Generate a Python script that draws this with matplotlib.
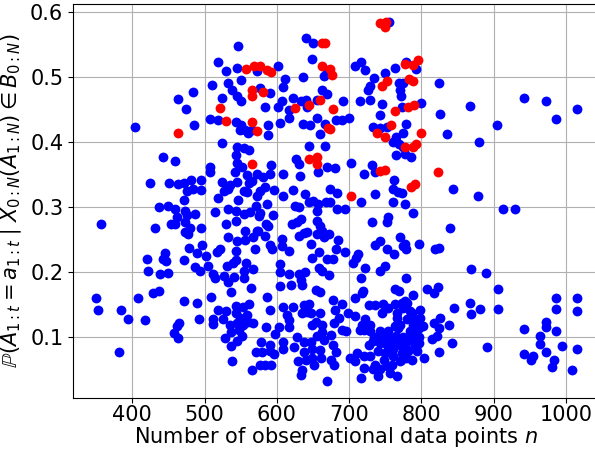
import numpy as np
import matplotlib
matplotlib.use("Agg")
import matplotlib.pyplot as plt

# (n, probability) pairs, blue = default, red = highlighted
blue_pts = np.array([
    # upper left block
    (546, .548), (519, .523), (530, .509), (545, .513), (510, .487), (532, .490),
    (550, .495), (538, .479), (545, .470), (550, .462), (484, .476), (463, .466),
    (474, .450), (524, .467), (486, .426), (404, .423), (508, .435), (519, .434),
    (544, .430), (551, .426), (560, .413), (524, .398), (545, .392), (554, .390),
    (561, .387), (443, .376), (459, .371), (507, .361), (507, .353), (543, .379),
    (545, .367), (542, .354), (559, .349), (425, .336), (451, .336), (463, .335),
    (471, .337), (481, .341), (475, .325), (484, .327), (495, .341), (495, .326),
    (524, .338), (535, .333), (545, .338), (527, .324), (559, .323), (518, .314),
    (472, .310), (549, .418), (556, .418), (552, .361), (533, .327), (554, .325),
    (561, .336), (577, .325), (584, .330), (546, .311), (533, .296), (459, .297),
    (473, .294), (459, .273), (473, .276),
    # upper middle block
    (640, .560), (650, .552), (755, .584), (648, .527), (669, .507), (665, .501),
    (602, .516), (572, .509), (611, .496), (636, .499), (608, .484), (577, .482),
    (590, .475), (584, .454), (607, .463), (602, .453), (617, .449), (622, .468),
    (634, .462), (640, .464), (642, .453), (655, .465), (662, .479), (669, .474),
    (691, .462), (617, .436), (636, .428), (646, .426), (655, .436), (666, .428),
    (682, .434), (690, .433), (700, .436), (659, .412), (604, .429), (588, .426),
    (588, .410), (565, .418), (645, .394), (667, .394), (627, .373), (631, .366),
    (657, .354), (669, .361), (680, .360), (632, .348), (609, .351), (592, .364),
    (572, .351), (581, .346), (591, .351), (565, .340), (703, .367), (720, .351),
    (732, .364), (736, .354), (762, .342), (761, .328), (768, .323), (773, .321),
    (623, .326), (596, .326), (572, .317), (609, .317), (639, .319), (673, .328),
    (683, .321), (736, .320), (708, .516), (717, .522), (722, .510), (749, .506),
    (763, .513), (778, .522), (792, .512), (734, .498), (729, .486), (726, .480),
    (769, .490), (775, .490), (770, .480), (772, .471), (715, .463), (729, .465),
    (746, .458), (743, .441), (773, .454), (800, .459), (733, .423), (743, .421),
    (752, .422), (779, .428), (775, .414), (765, .408), (761, .400), (769, .397),
    (775, .392), (765, .379), (777, .381), (786, .377),
    # upper right block
    (824, .490), (825, .442), (867, .455), (836, .412), (880, .399), (905, .426),
    (942, .468), (972, .463), (986, .435), (1015, .450), (844, .327), (878, .316),
    # lower left block
    (357, .273), (437, .300), (449, .302), (462, .285), (476, .287), (487, .289),
    (453, .273), (432, .267), (473, .262), (480, .268), (477, .258), (495, .267),
    (515, .292), (530, .273), (543, .294), (543, .278), (554, .289), (563, .292),
    (571, .302), (497, .241), (478, .237), (489, .229), (502, .224), (445, .229),
    (442, .220), (420, .219), (447, .217), (472, .218), (487, .207), (494, .201),
    (505, .209), (517, .230), (522, .235), (533, .253), (543, .232), (545, .248),
    (556, .263), (556, .249), (567, .253), (572, .263), (531, .209), (540, .214),
    (543, .218), (557, .214), (567, .204), (555, .201), (422, .201), (438, .197),
    (450, .198), (511, .196), (515, .191), (527, .194), (532, .185), (541, .192),
    (554, .190), (536, .169), (350, .159), (353, .141), (384, .142), (394, .127),
    (418, .126), (408, .160), (428, .167), (437, .170), (472, .155), (489, .152),
    (465, .122), (462, .117), (458, .106), (463, .098), (492, .127), (509, .161),
    (511, .127), (512, .120), (519, .141), (525, .127), (543, .147), (543, .137),
    (549, .129), (545, .122), (537, .108), (545, .094), (537, .086), (381, .076),
    (538, .063), (530, .140), (535, .118), (548, .110), (528, .098), (552, .101),
    # lower middle block, upper part
    (586, .304), (577, .291), (575, .286), (594, .288), (585, .273), (588, .271),
    (574, .263), (583, .255), (590, .242), (593, .235), (570, .235), (607, .250),
    (607, .240), (617, .232), (625, .301), (630, .299), (644, .307), (650, .309),
    (657, .304), (655, .294), (668, .307), (673, .307), (683, .296), (694, .296),
    (717, .308), (621, .273), (628, .276), (634, .282), (655, .278), (660, .271),
    (662, .263), (630, .255), (637, .260), (642, .262), (655, .258), (665, .253),
    (672, .258), (685, .249), (647, .243), (658, .230), (648, .222), (669, .219),
    (677, .219), (682, .235), (694, .231), (658, .206), (662, .201), (605, .212),
    (605, .199), (617, .196), (630, .197), (639, .199), (634, .188), (672, .195),
    (706, .214), (710, .222), (712, .227), (722, .206), (731, .276), (752, .276),
    (754, .284), (736, .242), (743, .248), (752, .235), (762, .228), (770, .253),
    (774, .240), (779, .235), (777, .243), (797, .243), (743, .201), (750, .209),
    (778, .190), (788, .291), (761, .307), (777, .305), (717, .190),
    # lower middle block, dense part
    (564, .175), (605, .178), (620, .179), (635, .180), (654, .172), (659, .169),
    (586, .162), (553, .146), (561, .151), (590, .141), (558, .133), (567, .121),
    (560, .123), (553, .118), (585, .115), (603, .115), (609, .146), (623, .146),
    (614, .133), (617, .126), (617, .115), (638, .149), (645, .151), (642, .138),
    (635, .136), (647, .136), (659, .136), (649, .118), (654, .123), (663, .118),
    (677, .156), (680, .141), (679, .121), (686, .129), (663, .108), (675, .103),
    (578, .092), (591, .088), (571, .076), (580, .077), (590, .079), (596, .074),
    (609, .092), (608, .082), (576, .056), (583, .056), (592, .056), (566, .049),
    (638, .092), (647, .092), (638, .077), (649, .082), (629, .063), (640, .064),
    (649, .067), (661, .067), (665, .095), (677, .087), (682, .077), (675, .064),
    (679, .056), (635, .049), (633, .041), (652, .056), (669, .032),
    (628, .100), (655, .102), (598, .104), (624, .085), (660, .080),
    # lower block around 700-820
    (690, .150), (727, .149), (736, .149), (747, .150), (745, .137), (764, .150),
    (773, .152), (780, .152), (787, .137), (798, .142), (798, .129), (766, .137),
    (766, .129), (771, .119), (780, .127), (794, .119), (764, .117), (729, .119),
    (718, .119), (720, .111), (690, .111), (743, .109), (754, .109), (784, .109),
    (791, .104), (796, .114), (802, .116), (733, .093), (743, .091), (752, .088),
    (761, .093), (771, .091), (780, .093), (791, .088), (740, .078), (750, .075),
    (761, .081), (773, .075), (782, .078), (794, .078), (803, .068), (787, .065),
    (770, .063), (711, .075), (720, .070), (729, .070), (701, .068), (708, .063),
    (720, .052), (733, .050), (743, .050), (752, .055), (757, .045), (740, .040),
    (717, .037), (766, .040), (814, .096), (821, .101), (764, .173), (769, .170),
    (788, .164), (718, .168), (708, .160), (699, .137), (708, .132), (696, .109),
    (727, .088), (756, .083), (736, .057), (759, .057), (772, .065), (797, .091),
    (779, .083), (770, .088), (729, .109), (715, .111), (722, .127), (767, .114),
    (788, .119), (788, .127), (784, .140), (775, .145), (754, .145), (777, .155),
    (719, .170), (745, .100), (755, .098), (765, .102), (775, .100), (785, .098),
    (760, .070), (748, .065), (778, .068), (735, .100), (797, .100),
    # lower right block
    (913, .296), (930, .296), (839, .267), (819, .235), (824, .236), (869, .204),
    (889, .198), (906, .174), (808, .173), (818, .168), (823, .177), (867, .152),
    (868, .135), (881, .143), (906, .143), (845, .144), (818, .121), (826, .129),
    (824, .113), (838, .119), (842, .091), (824, .077), (890, .085), (942, .112),
    (964, .102), (964, .089), (972, .123), (972, .115), (986, .109), (986, .159),
    (986, .143), (1015, .159), (1015, .140), (994, .086), (1015, .081), (942, .074),
    (954, .070), (951, .065), (972, .076), (984, .065), (980, .054), (1008, .049),
])

red_pts = np.array([
    (557, .512), (521, .452), (463, .414), (530, .432), (662, .552), (667, .552),
    (743, .583), (751, .584), (749, .577), (662, .517), (674, .512), (676, .503),
    (568, .516), (577, .516), (586, .511), (592, .508), (565, .480), (565, .470),
    (581, .476), (625, .452), (645, .457), (660, .464), (678, .450), (671, .421),
    (673, .419), (573, .417), (565, .431), (644, .374), (655, .377), (656, .366),
    (565, .366), (743, .355), (750, .356), (785, .330), (791, .335), (703, .316),
    (777, .519), (788, .518), (795, .526), (746, .486), (752, .493), (783, .496),
    (788, .494), (764, .447), (781, .453), (790, .457), (758, .426), (738, .413),
    (749, .408), (777, .392), (788, .392), (793, .397), (800, .414), (823, .353),
])

ylabel = r"$\mathbb{P}(A_{1:t} = a_{1:t} \mid X_{0:N}(A_{1:N}) \in B_{0:N})$"
xlabel = r"Number of observational data points $n$"

fig = plt.figure(figsize=(5.95, 4.5), dpi=100)
ax = fig.add_axes([0.1227, 0.1156, 0.8857, 0.8756])
ax.set_axisbelow(True)
ax.grid(True)
ax.scatter(blue_pts[:, 0], blue_pts[:, 1], c="blue", s=50, linewidths=0)
ax.scatter(red_pts[:, 0], red_pts[:, 1], c="red", s=50, linewidths=0)

ax.set_xlim(318, 1047)
ax.set_ylim(0.006, 0.612)
ax.set_xticks([400, 500, 600, 700, 800, 900, 1000])
ax.set_yticks([0.1, 0.2, 0.3, 0.4, 0.5, 0.6])
ax.tick_params('both', labelsize=15)
ax.tick_params('x', pad=1.5)
ax.set_xlabel(xlabel, fontsize=15, labelpad=0)
ax.set_ylabel(ylabel, fontsize=15)

fig.savefig("out.png", dpi=100)
